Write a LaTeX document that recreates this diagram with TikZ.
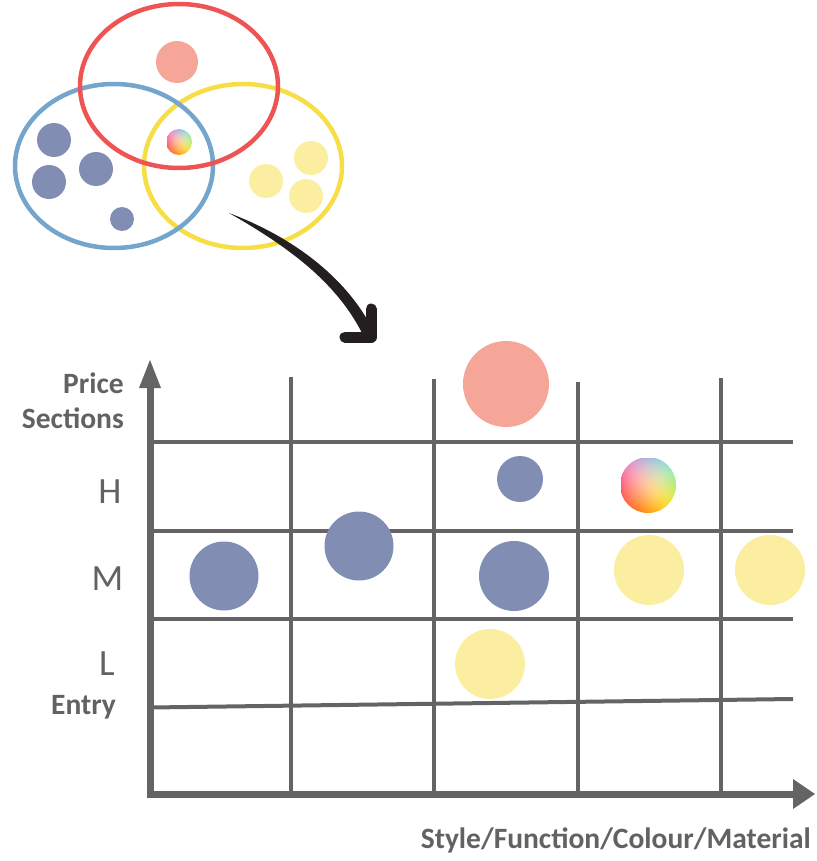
\documentclass[tikz,border=0pt]{standalone}
\usepackage{fontspec}
\setmainfont{Carlito}
\definecolor{gridgray}{RGB}{100,100,100}
\definecolor{txtgray}{RGB}{98,98,98}
\definecolor{vred}{RGB}{238,84,84}
\definecolor{vblue}{RGB}{116,165,205}
\definecolor{vyellow}{RGB}{248,222,70}
\definecolor{dotblue}{RGB}{130,141,179}
\definecolor{dotyellow}{RGB}{252,238,161}
\definecolor{dotpink}{RGB}{246,166,152}
\definecolor{arrowblack}{RGB}{35,31,32}
\pgfdeclarefunctionalshading{rainbowball}{\pgfpoint{-25bp}{-25bp}}{\pgfpoint{25bp}{25bp}}{}{
 25 add 50 div exch 25 add 50 div exch
 2 copy mul -0.53 mul 2 index 0 mul add 1 index -0.07 mul add 1 add
 2 index dup 1 exch sub mul 2 index dup 1 exch sub mul mul 2.68 mul add 3 1 roll
 2 copy mul -0.26 mul 2 index 0.68 mul add 1 index 0.25 mul add 0.25 add
 2 index dup 1 exch sub mul 2 index dup 1 exch sub mul mul 2.4 mul add 3 1 roll
 2 copy mul 0.15 mul 2 index -0.1 mul add 1 index 0.75 mul add 0.1 add
 2 index dup 1 exch sub mul 2 index dup 1 exch sub mul mul 2.2 mul add 3 1 roll
 pop pop
}
\begin{document}
\begin{tikzpicture}[x=1pt,y=-1pt,
  venn/.style={line width=4.5},
  dot/.style={circle, inner sep=0, draw=none},
  dotB/.style={dot, fill=dotblue},
  dotY/.style={dot, fill=dotyellow},
  dotP/.style={dot, fill=dotpink},
  rball/.style={dot, shade, shading=rainbowball},
  axisline/.style={draw=gridgray, line width=7},
  gridline/.style={draw=gridgray, line width=4},
  boldlbl/.style={text=txtgray, inner sep=0, font=\fontsize{29.5}{35}\selectfont\bfseries},
  lvl/.style={text=txtgray, inner sep=0, font=\fontsize{37}{44}\selectfont},
]
\useasboundingbox (0,0) rectangle (816,861);

% ---------- Venn diagram ----------
\draw[venn, vyellow] (243,166) ellipse [x radius=99, y radius=82];
\draw[venn, vblue] (114,166) ellipse [x radius=99, y radius=82];
\draw[venn, vred] (179,86) ellipse [x radius=99, y radius=82];

\node[dotP, minimum size=42] (vp) at (177,62) {};
\node[dotB, minimum size=34] (vb1) at (54,140) {};
\node[dotB, minimum size=34] (vb2) at (96,169) {};
\node[dotB, minimum size=34] (vb3) at (49,182) {};
\node[dotB, minimum size=24] (vb4) at (122,219) {};
\node[dotY, minimum size=34] (vy1) at (311,158) {};
\node[dotY, minimum size=34] (vy2) at (266,181) {};
\node[dotY, minimum size=34] (vy3) at (306,196) {};
\node[rball, minimum size=26] (vr) at (179,142) {};

% ---------- curved arrow ----------
\coordinate (arS) at (229,213);
\coordinate (arE1) at (373,330);
\coordinate (arE2) at (362,333);
\coordinate (arC) at (371,337);
\fill[arrowblack] (arS) .. controls (290,236) and (345,275) .. (arE1)
  -- (arE2) .. controls (335,280) and (285,245) .. (arS) -- cycle;
\draw[arrowblack, line width=11, line cap=round, line join=round]
  (345,337) -- (arC) -- (371,309);

% ---------- chart grid ----------
\coordinate (O) at (150,794);
\draw[gridline] (291,377) -- (291,794);
\draw[gridline] (434,379) -- (434,794);
\draw[gridline] (578,382) -- (578,794);
\draw[gridline] (721,378) -- (721,794);
\draw[gridline] (150,442) -- (793,442);
\draw[gridline] (150,531) -- (793,531);
\draw[gridline] (150,619) -- (793,619);
\draw[gridline] (150,707.5) -- (793,699);

% axes
\coordinate (ytip) at (150,360);
\coordinate (xtip) at (815,794);
\draw[axisline] (150,797.5) -- (150,386);
\fill[gridgray] (139,388) -- (ytip) -- (161,388) -- cycle;
\draw[axisline] (146.5,794) -- (794,794);
\fill[gridgray] (793,779) -- (xtip) -- (793,809) -- cycle;

% ---------- bubbles ----------
\node[dotP, minimum size=86] (bP) at (506,384) {};
\node[dotB, minimum size=46] (bH) at (520,479) {};
\node[rball, minimum size=56] (bR) at (648,485) {};
\node[dotB, minimum size=69] (bM1) at (224,576) {};
\node[dotB, minimum size=69] (bM2) at (359,546) {};
\node[dotB, minimum size=70] (bM3) at (514,576) {};
\node[dotY, minimum size=70] (bM4) at (649,570) {};
\node[dotY, minimum size=70] (bM5) at (770,570) {};
\node[dotY, minimum size=70] (bL) at (490,664) {};

% ---------- labels ----------
\node[boldlbl, anchor=base east] (lp1) at (124,393) {Price};
\node[boldlbl, anchor=base east] (lp2) at (124,428) {Sections};
\node[lvl, anchor=base] (lH) at (110,503) {H};
\node[lvl, anchor=base] (lM) at (107.5,590) {M};
\node[lvl, anchor=base] (lL) at (107,675) {L};
\node[boldlbl, anchor=base west] (lE) at (51,714) {Entry};
\node[boldlbl, anchor=base east] (lX) at (811,848) {Style/Function/Colour/Material};
\end{tikzpicture}
\end{document}
